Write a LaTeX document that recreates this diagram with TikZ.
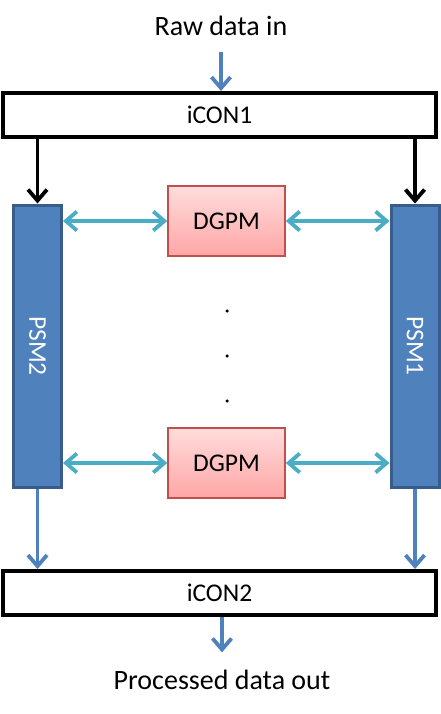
\documentclass[tikz,border=0pt]{standalone}
\usepackage{fontspec}
\setmainfont{Carlito}
\usetikzlibrary{arrows.meta}
\definecolor{psmblue}{HTML}{4F81BD}
\definecolor{psmedge}{HTML}{385D8A}
\definecolor{linkcyan}{HTML}{4BACC6}
\definecolor{dgpmedge}{HTML}{C0504D}
\definecolor{dgpmtop}{HTML}{FFDCDC}
\definecolor{dgpmbot}{HTML}{FFA6A6}

\begin{document}
\begin{tikzpicture}
  [x=1pt,y=-1pt,
   lbl/.style={inner sep=0pt,font=\fontsize{28}{31}\selectfont},
   con/.style={draw=black,line width=4pt,fill=white,minimum width=433pt,minimum height=44pt,
     inner sep=0pt,font=\fontsize{25.5}{28}\selectfont},
   psm/.style={draw=psmedge,line width=3pt,fill=psmblue,minimum width=48pt,minimum height=282pt,
     inner sep=0pt,text=white,font=\fontsize{25.5}{28}\selectfont},
   dgpm/.style={draw=dgpmedge,line width=1.6pt,top color=dgpmtop,bottom color=dgpmbot,
     minimum width=117pt,minimum height=70pt,inner sep=0pt,font=\fontsize{25.5}{28}\selectfont},
   dot/.style={circle,fill=black,inner sep=0pt,minimum size=3.5pt},
   tip/.style={-{Straight Barb[length=11pt,width=19pt,line width=3.8pt]}},
   flow/.style={tip,draw=psmblue,line width=3.8pt},
   feed/.style={tip,draw=black,line width=3.8pt},
   link/.style={{Straight Barb[length=11pt,width=19pt,line width=3.8pt]}-{Straight Barb[length=11pt,width=19pt,line width=3.8pt]},
     draw=linkcyan,line width=3.8pt}]
  \useasboundingbox (0,0) rectangle (441,714);

  \node[lbl,anchor=base] (raw) at (221,36)  {Raw data in};
  \node[con]   (icon1) at (219.5,115) {iCON1};
  \node[psm]   (psm2)  at (37.5,346)  {\rotatebox{-90}{PSM2}};
  \node[psm]   (psm1)  at (415,346)   {\rotatebox{-90}{PSM1}};
  \node[dgpm]  (dgpma) at (226.5,221) {DGPM};
  \node[dgpm]  (dgpmb) at (226.5,463) {DGPM};
  \node[dot]   (d1)    at (227,311)   {};
  \node[dot]   (d2)    at (227,356)   {};
  \node[dot]   (d3)    at (227,401)   {};
  \node[con]   (icon2) at (219.5,593) {iCON2};
  \node[lbl,anchor=base] (out) at (222,689) {Processed data out};

  \draw[flow,shorten <=16pt] (raw.south) -- (raw.south |- icon1.north);
  \draw[feed] (icon1.south -| psm2) -- (psm2.north);
  \draw[feed] (icon1.south -| psm1) -- (psm1.north);

  \foreach \blk in {dgpma, dgpmb} {
    \draw[link] (psm2.east |- \blk) -- (\blk.west);
    \draw[link] (\blk.east) -- (psm1.west |- \blk);
  }

  \draw[flow] (psm2.south) -- (psm2.south |- icon2.north);
  \draw[flow] (psm1.south) -- (psm1.south |- icon2.north);
  \draw[flow,shorten >=17pt] (icon2.south -| out) -- (out.north);

\end{tikzpicture}
\end{document}
